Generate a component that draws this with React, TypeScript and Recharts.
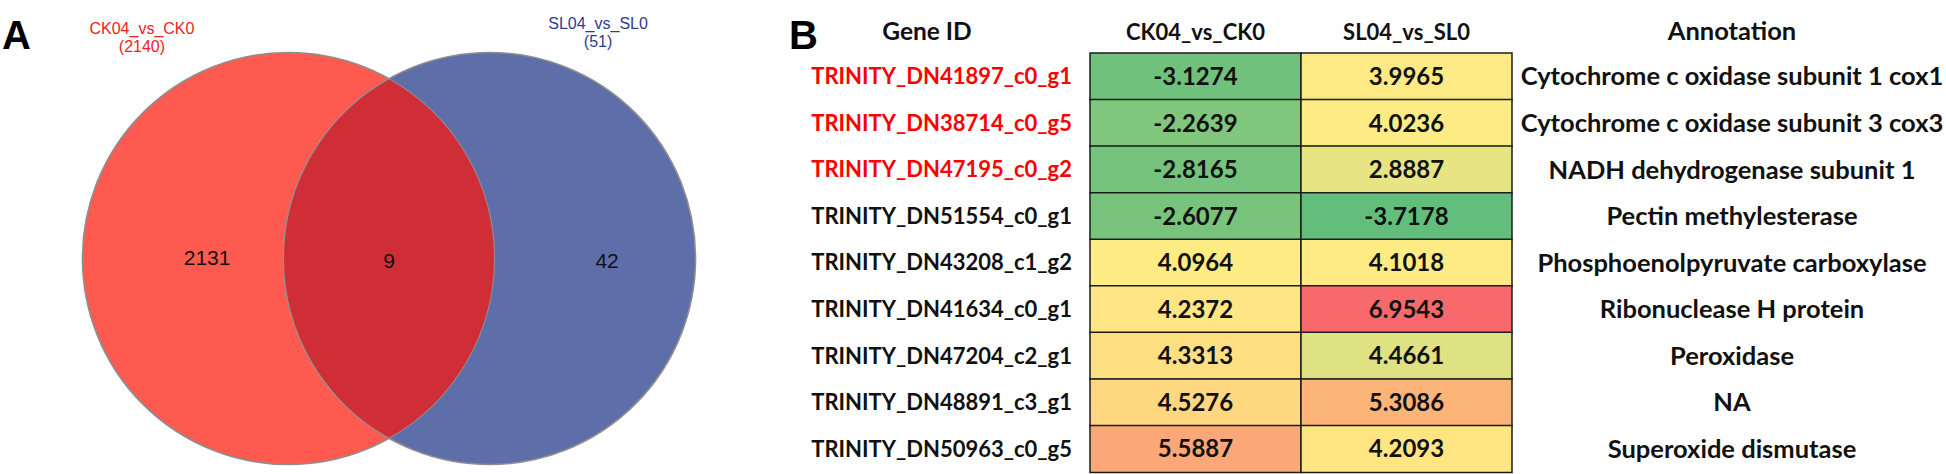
import React from "react";
import { ScatterChart, Scatter, XAxis, YAxis, BarChart, Bar, Cell, LabelList } from "recharts";

// ---------------- Panel A: Venn data ----------------
const vennSetNames = ["CK04_vs_CK0", "SL04_vs_SL0"];
const vennSetTotals = [2140, 51];
const vennRegionNames = ["CK04_vs_CK0 only", "shared", "SL04_vs_SL0 only"];
const vennRegionCounts = [2131, 9, 42];

// ---------------- Panel B: table data ----------------
const geneIds = [
  "TRINITY_DN41897_c0_g1",
  "TRINITY_DN38714_c0_g5",
  "TRINITY_DN47195_c0_g2",
  "TRINITY_DN51554_c0_g1",
  "TRINITY_DN43208_c1_g2",
  "TRINITY_DN41634_c0_g1",
  "TRINITY_DN47204_c2_g1",
  "TRINITY_DN48891_c3_g1",
  "TRINITY_DN50963_c0_g5",
];
const ck04VsCk0 = [-3.1274, -2.2639, -2.8165, -2.6077, 4.0964, 4.2372, 4.3313, 4.5276, 5.5887];
const sl04VsSl0 = [3.9965, 4.0236, 2.8887, -3.7178, 4.1018, 6.9543, 4.4661, 5.3086, 4.2093];
const annotations = [
  "Cytochrome c oxidase subunit 1 cox1",
  "Cytochrome c oxidase subunit 3 cox3",
  "NADH dehydrogenase subunit 1",
  "Pectin methylesterase",
  "Phosphoenolpyruvate carboxylase",
  "Ribonuclease H protein",
  "Peroxidase",
  "NA",
  "Superoxide dismutase",
];
const highlightedGeneIds = ["TRINITY_DN41897_c0_g1", "TRINITY_DN38714_c0_g5", "TRINITY_DN47195_c0_g2"];
const columnNames = ["CK04_vs_CK0", "SL04_vs_SL0"];
const tableHeaders = ["Gene ID", "Annotation"];

// ---------------- styles / layout ----------------
const W = 1946;
const H = 474;
const VENN_W = 700;
const UNIT_PX = 201; // px between circle centres
const CENTER_PX = { x: 288.5, y: 258.5 };
const X_DOMAIN = [-CENTER_PX.x / UNIT_PX, (VENN_W - CENTER_PX.x) / UNIT_PX];
const Y_DOMAIN = [-(H - CENTER_PX.y) / UNIT_PX, CENTER_PX.y / UNIT_PX];
const RADIUS_UNITS = 1.025;
const vennCenterX = [0, 1];
const vennFills = ["#FF5A50", "#5E6EA8"];
const vennLensFill = "#D02E36";
const vennTitleColors = ["#EE2222", "#2E3B8E"];
const vennTitlePos = [
  { x: -0.729, y: 1.117 },
  { x: 1.54, y: 1.142 },
];
const vennRegionPos = [
  { x: -0.405, y: 0.004 },
  { x: 0.5, y: -0.008 },
  { x: 1.585, y: -0.008 },
];
const ARIAL = '"Liberation Sans", Arial, sans-serif';
const CALIBRI = 'Lato, "Open Sans", sans-serif';

const LOW = [99, 190, 123];
const MID = [255, 235, 132];
const HIGH = [248, 105, 107];
const colourOverrides: Record<string, string> = {
  "TRINITY_DN47204_c2_g1|SL04_vs_SL0": "#DFE283",
};

const allValues = [...ck04VsCk0, ...sl04VsSl0].slice().sort((a, b) => a - b);
const vMin = allValues[0];
const vMax = allValues[allValues.length - 1];
const vMed =
  allValues.length % 2 === 0
    ? (allValues[allValues.length / 2 - 1] + allValues[allValues.length / 2]) / 2
    : allValues[(allValues.length - 1) / 2];

function mix(a: number[], b: number[], t: number) {
  const c = a.map((v, i) => Math.round(v + (b[i] - v) * t));
  return "#" + c.map((v) => v.toString(16).padStart(2, "0")).join("");
}
function scaleColour(v: number) {
  if (v <= vMed) return mix(LOW, MID, (v - vMin) / (vMed - vMin));
  return mix(MID, HIGH, (v - vMed) / (vMax - vMed));
}
function cellColour(gene: string, col: string, v: number) {
  return colourOverrides[gene + "|" + col] ?? scaleColour(v);
}

const tableRows = geneIds.map((gene, i) => ({
  gene,
  annotation: annotations[i],
  ck: ck04VsCk0[i],
  sl: sl04VsSl0[i],
  ckSpan: 1,
  slSpan: 1,
}));

// ---------------- Venn shapes ----------------
const pxPerUnit = VENN_W / (X_DOMAIN[1] - X_DOMAIN[0]);

const CircleShape = (props: any) => {
  const { cx, cy, payload } = props;
  return (
    <circle
      cx={cx}
      cy={cy}
      r={RADIUS_UNITS * pxPerUnit}
      fill={payload.fill}
      stroke="#8E8E8E"
      strokeWidth={1.6}
    />
  );
};

const LensShape = (props: any) => {
  const { cx, cy } = props;
  const r = RADIUS_UNITS * pxPerUnit;
  const half = pxPerUnit / 2;
  const h = Math.sqrt(r * r - half * half);
  const d = `M ${cx} ${cy - h} A ${r} ${r} 0 0 1 ${cx} ${cy + h} A ${r} ${r} 0 0 1 ${cx} ${cy - h} Z`;
  return <path d={d} fill={vennLensFill} stroke="#9A9A9A" strokeWidth={1.2} strokeOpacity={0.7} />;
};

const CountShape = (props: any) => {
  const { cx, cy, payload } = props;
  return (
    <text x={cx} y={cy} dy="0.36em" textAnchor="middle" fontFamily={ARIAL} fontSize={21} fill="#111">
      {payload.count}
    </text>
  );
};

const TitleShape = (props: any) => {
  const { cx, cy, payload } = props;
  return (
    <text x={cx} y={cy} textAnchor="middle" fontFamily={ARIAL} fontSize={16} fill={payload.color}>
      <tspan x={cx} dy={0}>{payload.name}</tspan>
      <tspan x={cx} dy={18.5}>({payload.total})</tspan>
    </text>
  );
};

const vennCircleData = vennSetNames.map((name, i) => ({ x: vennCenterX[i], y: 0, name, fill: vennFills[i] }));
const vennLensData = [{ x: (vennCenterX[0] + vennCenterX[1]) / 2, y: 0 }];
const vennCountData = vennRegionNames.map((name, i) => ({
  x: vennRegionPos[i].x,
  y: vennRegionPos[i].y,
  name,
  count: vennRegionCounts[i],
}));
const vennTitleData = vennSetNames.map((name, i) => ({
  x: vennTitlePos[i].x,
  y: vennTitlePos[i].y,
  name,
  total: vennSetTotals[i],
  color: vennTitleColors[i],
}));

// ---------------- Table ----------------
const TABLE_LEFT = 780;
const TABLE_W = W - TABLE_LEFT;
const GENE_AXIS_W = 310;
const ANNOT_AXIS_W = 434;
const HEADER_H = 53;

const GeneTick = (props: any) => {
  const { x, y, payload } = props;
  const red = highlightedGeneIds.includes(payload.value);
  return (
    <text x={x} y={y} dy="0.36em" textAnchor="end" fontFamily={CALIBRI} fontWeight={700} fontSize={22} fill={red ? "#FF0000" : "#111"}>
      {payload.value}
    </text>
  );
};

const AnnotTick = (props: any) => {
  const { x, y, payload } = props;
  return (
    <text x={x + 220} y={y} dy="0.36em" textAnchor="middle" fontFamily={CALIBRI} fontWeight={700} fontSize={25.5} fill="#111">
      {payload.value}
    </text>
  );
};

const ColumnTick = (props: any) => {
  const { x, y, payload } = props;
  const idx = Math.round(payload.value - 0.5);
  return (
    <text x={x} y={y - 13} textAnchor="middle" fontFamily={CALIBRI} fontWeight={700} fontSize={22} fill="#111">
      {columnNames[idx]}
    </text>
  );
};

const fmt = (v: any) => Number(v).toFixed(4);

export default function App() {
  return (
    <div style={{ position: "absolute", left: 0, top: 0, width: W, height: H, background: "#fff", overflow: "hidden" }}>
      <svg style={{ position: "absolute", left: 0, top: 0 }} width={60} height={60}>
        <text x={2} y={49} fontFamily={ARIAL} fontWeight={700} fontSize={40} fill="#000">A</text>
      </svg>
      <div style={{ position: "absolute", left: 0, top: 0 }}>
        <ScatterChart width={VENN_W} height={H} margin={{ top: 0, right: 0, bottom: 0, left: 0 }}>
          <XAxis type="number" dataKey="x" domain={X_DOMAIN} hide allowDataOverflow />
          <YAxis type="number" dataKey="y" domain={Y_DOMAIN} hide allowDataOverflow />
          <Scatter data={vennCircleData} shape={CircleShape} isAnimationActive={false} />
          <Scatter data={vennLensData} shape={LensShape} isAnimationActive={false} />
          <Scatter data={vennCountData} shape={CountShape} isAnimationActive={false} />
          <Scatter data={vennTitleData} shape={TitleShape} isAnimationActive={false} />
        </ScatterChart>
      </div>
      <svg style={{ position: "absolute", left: 770, top: 0 }} width={60} height={60}>
        <text x={19} y={49} fontFamily={ARIAL} fontWeight={700} fontSize={40} fill="#000">B</text>
      </svg>
      <div style={{ position: "absolute", left: TABLE_LEFT, top: 0 }}>
        <BarChart
          width={TABLE_W}
          height={H}
          data={tableRows}
          layout="vertical"
          margin={{ top: 0, right: 0, bottom: 2, left: 0 }}
          barCategoryGap={0}
          barGap={0}
        >
          <XAxis
            type="number"
            orientation="top"
            domain={[0, 2]}
            ticks={[0.5, 1.5]}
            height={HEADER_H}
            axisLine={false}
            tickLine={false}
            tickSize={0}
            tickMargin={0}
            tick={ColumnTick}
            interval={0}
          />
          <YAxis
            yAxisId="left"
            type="category"
            dataKey="gene"
            width={GENE_AXIS_W}
            axisLine={false}
            tickLine={false}
            tickSize={0}
            tickMargin={18}
            tick={GeneTick}
            interval={0}
            label={{
              content: () => (
                <text x={147} y={40} textAnchor="middle" fontFamily={CALIBRI} fontWeight={700} fontSize={24.5} fill="#111">
                  {tableHeaders[0]}
                </text>
              ),
            }}
          />
          <YAxis
            yAxisId="right"
            orientation="right"
            type="category"
            dataKey="annotation"
            width={ANNOT_AXIS_W}
            axisLine={false}
            tickLine={false}
            tickSize={0}
            tickMargin={0}
            tick={AnnotTick}
            interval={0}
            label={{
              content: () => (
                <text x={952} y={40} textAnchor="middle" fontFamily={CALIBRI} fontWeight={700} fontSize={25.5} fill="#111">
                  {tableHeaders[1]}
                </text>
              ),
            }}
          />
          <Bar dataKey="ckSpan" stackId="t" yAxisId="left" isAnimationActive={false}>
            {tableRows.map((r) => (
              <Cell key={r.gene} fill={cellColour(r.gene, columnNames[0], r.ck)} stroke="#1C1C1C" strokeWidth={1.5} />
            ))}
            <LabelList dataKey="ck" position="center" formatter={fmt} fill="#111" fontFamily={CALIBRI} fontWeight={700} fontSize={24} />
          </Bar>
          <Bar dataKey="slSpan" stackId="t" yAxisId="left" isAnimationActive={false}>
            {tableRows.map((r) => (
              <Cell key={r.gene} fill={cellColour(r.gene, columnNames[1], r.sl)} stroke="#1C1C1C" strokeWidth={1.5} />
            ))}
            <LabelList dataKey="sl" position="center" formatter={fmt} fill="#111" fontFamily={CALIBRI} fontWeight={700} fontSize={24} />
          </Bar>
        </BarChart>
      </div>
    </div>
  );
}
